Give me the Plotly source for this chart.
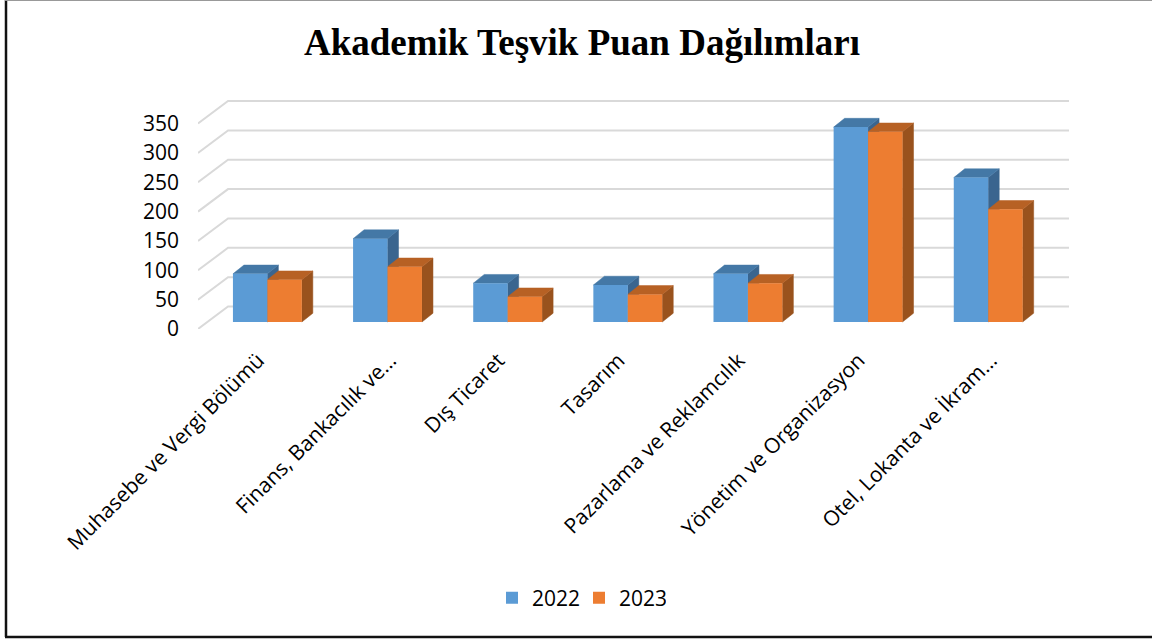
import plotly.graph_objects as go

# ---- data ----
categories = ["Muhasebe ve Vergi Bölümü", "Finans, Bankacılık ve…", "Dış Ticaret", "Tasarım",
              "Pazarlama ve Reklamcılık", "Yönetim ve Organizasyon", "Otel, Lokanta ve İkram…"]
values_2022 = [82, 142, 66, 63, 82, 332, 246]
values_2023 = [72, 94, 43, 47, 66, 324, 192]
y_ticks = [0, 50, 100, 150, 200, 250, 300, 350]

# ---- pseudo-3D projection constants (axis units) ----
PX_X = 120.0            # pixels per category
PX_Y = 0.587            # pixels per value unit
WALL_DX, WALL_DY = 30 / PX_X, 22.5 / PX_Y
BAR_X, BAR_Y = 9.3 / PX_X, 7 / PX_Y      # front of the bars inside the floor
BAR_W = 34.4 / PX_X
DEPTH_DX, DEPTH_DY = 11 / PX_X, 8.8 / PX_Y
X0, X1 = -0.5, 6.5
LABEL_NUDGE = 0.1       # truncated labels end further right in the reference

BLUE, BLUE_TOP, BLUE_SIDE = "#5B9BD5", "#4478A6", "#3A658F"
ORANGE, ORANGE_TOP, ORANGE_SIDE = "#ED7D31", "#B76124", "#99521D"
GRID = "#D9D9D9"
FONT = "Open Sans"

# page pixels -> paper fractions of the plot area
ML, MR, MT, MB = 198, 83, 100, 312
pw, ph = 1152 - ML - MR, 641 - MT - MB
def px(x): return (x - ML) / pw
def py(y): return (641 - MB - y) / ph

fig = go.Figure()

for t in y_ticks:
    fig.add_trace(go.Scatter(
        x=[X0, X0 + WALL_DX, X1 + WALL_DX], y=[t, t + WALL_DY, t + WALL_DY],
        mode="lines", line=dict(color=GRID, width=2), showlegend=False, hoverinfo="skip", zorder=0))


def poly(xs, ys, color, z):
    fig.add_trace(go.Scatter(x=xs, y=ys, mode="lines", fill="toself", fillcolor=color,
                             line=dict(color=color, width=0.5), showlegend=False,
                             hoverinfo="skip", zorder=z))


def extrude(values, offset, top, side, z):
    for i, v in enumerate(values):
        l = i + BAR_X + offset - BAR_W / 2
        r = l + BAR_W
        b = BAR_Y
        t = BAR_Y + v
        poly([r, r + DEPTH_DX, r + DEPTH_DX, r, r], [b, b + DEPTH_DY, t + DEPTH_DY, t, b], side, z)
        poly([l, l + DEPTH_DX, r + DEPTH_DX, r, l], [t, t + DEPTH_DY, t + DEPTH_DY, t, t], top, z)


extrude(values_2022, -BAR_W / 2, BLUE_TOP, BLUE_SIDE, 1)
extrude(values_2023, BAR_W / 2, ORANGE_TOP, ORANGE_SIDE, 2)

x_idx = list(range(len(categories)))
fig.add_trace(go.Bar(name="2022", x=[i + BAR_X - BAR_W / 2 for i in x_idx], y=values_2022,
                     base=BAR_Y, width=BAR_W, marker=dict(color=BLUE, line_width=0), zorder=3))
fig.add_trace(go.Bar(name="2023", x=[i + BAR_X + BAR_W / 2 for i in x_idx], y=values_2023,
                     base=BAR_Y, width=BAR_W, marker=dict(color=ORANGE, line_width=0), zorder=3))

tick_pos = [i + (LABEL_NUDGE if c.endswith("…") else 0) for i, c in zip(x_idx, categories)]

fig.update_layout(
    width=1152, height=641, autosize=False, barmode="overlay",
    margin=dict(l=ML, r=MR, t=MT, b=MB),
    paper_bgcolor="white", plot_bgcolor="white",
    title=dict(text="<b>Akademik Teşvik Puan Dağılımları</b>", x=582 / 1152, xanchor="center",
               y=1 - 42 / 641, yanchor="middle", font=dict(family="Liberation Serif", size=37, color="black")),
    legend=dict(orientation="h", x=px(492), xanchor="left", y=py(598), yanchor="middle",
                font=dict(family=FONT, size=21, color="black"), itemclick=False, entrywidth=42,
                entrywidthmode="pixels"),
    xaxis=dict(range=[X0, X1 + WALL_DX], tickmode="array", tickvals=tick_pos, ticktext=categories,
               tickangle=-45, tickfont=dict(family=FONT, size=21, color="black"), ticklabelstandoff=14,
               showgrid=False, zeroline=False, showline=False, ticks=""),
    yaxis=dict(range=[0, ph / PX_Y], tickmode="array", tickvals=y_ticks,
               tickfont=dict(family=FONT, size=21, color="black"), ticklabelstandoff=18,
               showgrid=False, zeroline=False, showline=False, ticks=""),
    shapes=[
        dict(type="line", xref="paper", yref="paper", x0=px(6), x1=px(6), y0=py(0), y1=py(637),
             line=dict(color="#111111", width=2.5)),
        dict(type="line", xref="paper", yref="paper", x0=px(5), x1=px(1152), y0=py(637), y1=py(637),
             line=dict(color="#111111", width=2.5)),
        dict(type="line", xref="paper", yref="paper", x0=px(5), x1=px(1152), y0=py(0.5), y1=py(0.5),
             line=dict(color="#999999", width=1)),
    ],
)

fig.write_html("out.html", config={"displayModeBar": False},
               post_script="document.body.style.margin='0';document.body.style.overflow='hidden';")
